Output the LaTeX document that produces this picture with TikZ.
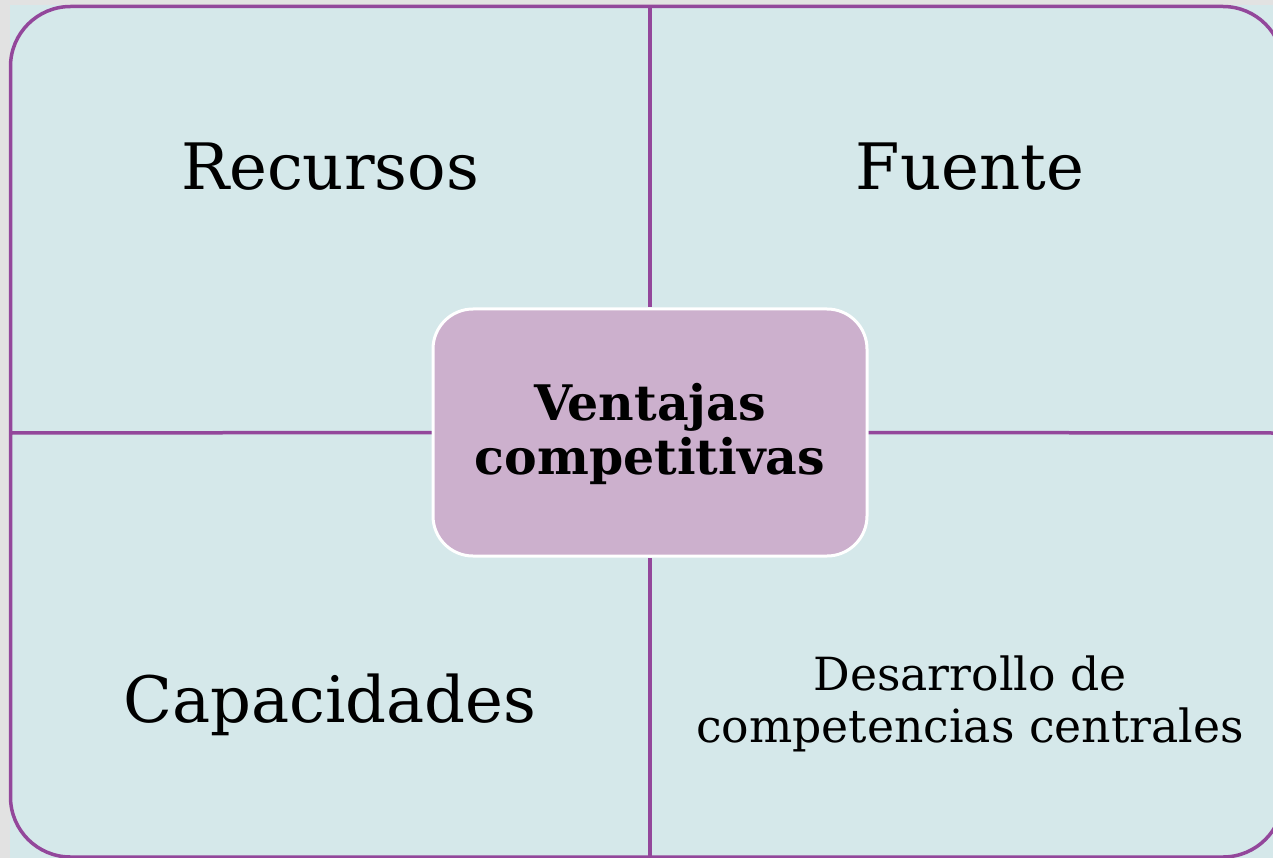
\documentclass[tikz,border=0pt]{standalone}
\usepackage{fontspec}
\setmainfont{DejaVu Serif}
\definecolor{bgcyan}{HTML}{D5E8EA}
\definecolor{linepurple}{HTML}{93479B}
\definecolor{centerfill}{HTML}{CCB0CD}
\definecolor{margingray}{HTML}{E2E2E2}
\tikzset{
  divider/.style={draw=linepurple, line width=3.5pt},
  quadtext/.style={font=\fontsize{64}{74}\selectfont, inner sep=0pt, align=center},
  smalltext/.style={font=\fontsize{45.7}{52}\selectfont, inner sep=0pt, align=center},
  centerbox/.style={draw=white, line width=3pt, fill=centerfill, rounded corners=40pt,
    minimum width=434pt, minimum height=247pt},
  centertext/.style={font=\fontsize{49}{54}\selectfont\bfseries, inner sep=0pt, anchor=base}
}
\begin{document}
\begin{tikzpicture}[x=1pt,y=-1pt]
\useasboundingbox (0,0) rectangle (1273,858);
\clip (0,0) rectangle (1273,858);
\fill[margingray] (0,0) rectangle (1273,858);
\fill[bgcyan] (10,5) rectangle (1273,858);
\draw[divider, rounded corners=60pt] (10.5,6.5) rectangle (1283,857);
\coordinate (top) at (650,6.5);
\coordinate (bottom) at (650,857);
\coordinate (left) at (10.5,433);
\coordinate (right) at (1273,433);
\node[centerbox] (center) at (650,432.5) {};
\draw[divider] (top) -- (center.north);
\draw[divider] (bottom) -- (center.south);
\draw[divider] (left) -- (center.west);
\draw[divider] (right) -- (center.east);
\node[centertext] (v1) at (650,420) {Ventajas};
\node[centertext] (v2) at (650,474) {competitivas};
\node[quadtext, anchor=base] (rec) at (330,190) {Recursos};
\node[quadtext, anchor=base] (fue) at (970,190) {Fuente};
\node[quadtext, anchor=base] (cap) at (330,722) {Capacidades};
\node[smalltext, anchor=base] (des) at (970,690) {Desarrollo de};
\node[smalltext, anchor=base] (com) at (970,742) {competencias centrales};
\end{tikzpicture}
\end{document}
